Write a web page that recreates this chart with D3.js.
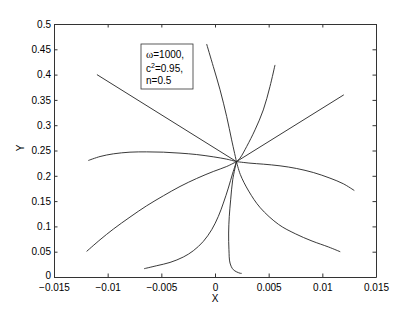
<!DOCTYPE html>
<html lang="en">

  <head>
    <meta charset="UTF-8">
    <title>Trajectories</title>
    <style>
      body {
        margin: 0;
        background-color: white;
      }

      text {
        font-family: "Liberation Sans", Arial, Helvetica, sans-serif;
        font-size: 10px;
        fill: black;
      }
    </style>
  </head>

  <body>
    <div id="my-div"></div>
    <script src="https://d3js.org/d3.v7.min.js"></script>
    <script>

      // tick values and labels
      var xTicks = [-0.015, -0.01, -0.005, 0, 0.005, 0.01, 0.015];
      var xTickLabels = ["\u22120.015", "\u22120.01", "\u22120.005", "0", "0.005", "0.01", "0.015"];
      var yTicks = [0, 0.05, 0.1, 0.15, 0.2, 0.25, 0.3, 0.35, 0.4, 0.45, 0.5];
      var yTickLabels = ["0", "0.05", "0.1", "0.15", "0.2", "0.25", "0.3", "0.35", "0.4", "0.45", "0.5"];

      // trajectories, all leaving the common point (x, y)
      var lineUpLeft = [[0.002, 0.228], [-0.011, 0.400]];
      var lineUpRight = [[0.002, 0.228], [0.012, 0.360]];
      var curveTop = [[0.002, 0.228], [0.00155, 0.271], [0.00109, 0.317], [0.00047, 0.370], [-0.00016, 0.416], [-0.00078, 0.4605]];
      var curveTopRight = [[0.002, 0.228], [0.00233, 0.2349], [0.00295, 0.2578], [0.00373, 0.2908], [0.0045, 0.3302], [0.00512, 0.3763], [0.00559, 0.4191]];
      var arcLeft = [[0.002, 0.228], [0.00109, 0.2329], [-0.00016, 0.2375], [-0.00171, 0.2420], [-0.00326, 0.2448], [-0.00481, 0.2467], [-0.00637, 0.2473], [-0.00792, 0.2467], [-0.00947, 0.2434], [-0.01071, 0.2381], [-0.01181, 0.2302]];
      var arcRight = [[0.002, 0.228], [0.00326, 0.2250], [0.0045, 0.2230], [0.00606, 0.2197], [0.00761, 0.2144], [0.00916, 0.2065], [0.01071, 0.1954], [0.01196, 0.1842], [0.01298, 0.1709]];
      var lowLeft = [[0.002, 0.228], [0.00109, 0.2184], [-0.00016, 0.2085], [-0.00171, 0.1947], [-0.00326, 0.1789], [-0.00481, 0.1605], [-0.00637, 0.1407], [-0.00792, 0.1184], [-0.00947, 0.0947], [-0.01071, 0.0736], [-0.01196, 0.0506]];
      var lowRight = [[0.002, 0.228], [0.00236, 0.2025], [0.00314, 0.1698], [0.00422, 0.1368], [0.00593, 0.1038], [0.00748, 0.0855], [0.00904, 0.0711], [0.01059, 0.0592], [0.01167, 0.0499]];
      var bottomLeft = [[0.002, 0.228], [0.00165, 0.2053], [0.00124, 0.1757], [0.00078, 0.1461], [0.00031, 0.1197], [-0.00031, 0.0934], [-0.00109, 0.0703], [-0.00202, 0.0519], [-0.00295, 0.0395], [-0.00419, 0.0288], [-0.00543, 0.0223], [-0.00661, 0.0164]];
      var bottomDown = [[0.002, 0.228], [0.00165, 0.1921], [0.00146, 0.1526], [0.00133, 0.1197], [0.00127, 0.0869], [0.0013, 0.0539], [0.0014, 0.0276], [0.00171, 0.0144], [0.00233, 0.0075], [0.00249, 0.0072]];

      var curves = [lineUpLeft, lineUpRight, curveTop, curveTopRight, arcLeft, arcRight, lowLeft, lowRight, bottomLeft, bottomDown];

      // dimensions of the plot box
      var margin = { top: 24, right: 39, bottom: 36, left: 54 },
        width = 415 - margin.left - margin.right,
        height = 313 - margin.top - margin.bottom;

      var svg = d3.select("#my-div")
        .append("svg")
        .attr("width", 415)
        .attr("height", 313)
        .append("g")
        .attr("transform", "translate(" + margin.left + "," + margin.top + ")");

      var x = d3.scaleLinear()
        .domain([-0.015, 0.015])
        .range([0, width]);

      var y = d3.scaleLinear()
        .domain([0, 0.5])
        .range([height, 0]);

      // curves
      var line = d3.line()
        .x(function (d) { return x(d[0]); })
        .y(function (d) { return y(d[1]); })
        .curve(d3.curveCatmullRom.alpha(0.5));

      svg.selectAll(".traj")
        .data(curves)
        .enter()
        .append("path")
        .attr("class", "traj")
        .attr("d", line)
        .attr("fill", "none")
        .attr("stroke", "#222")
        .attr("stroke-width", 0.9);

      // axes, MATLAB style: ticks inside on all four sides
      var tickLen = 3.5;

      svg.append("g")
        .attr("transform", "translate(0," + height + ")")
        .call(d3.axisBottom(x).tickValues(xTicks).tickSizeInner(-tickLen).tickSizeOuter(0)
          .tickPadding(7).tickFormat(function (d, i) { return xTickLabels[i]; }));

      svg.append("g")
        .call(d3.axisTop(x).tickValues(xTicks).tickSizeInner(-tickLen).tickSizeOuter(0)
          .tickFormat(""));

      var yAxis = svg.append("g")
        .call(d3.axisLeft(y).tickValues(yTicks).tickSizeInner(-tickLen).tickSizeOuter(0)
          .tickPadding(3).tickFormat(function (d, i) { return yTickLabels[i]; }));

      // lift the "0" label a little so it clears the x labels
      yAxis.selectAll(".tick text")
        .filter(function (d) { return d === 0; })
        .attr("y", -1.5);

      svg.append("g")
        .attr("transform", "translate(" + width + ",0)")
        .call(d3.axisRight(y).tickValues(yTicks).tickSizeInner(-tickLen).tickSizeOuter(0)
          .tickFormat(""));

      svg.selectAll(".domain, .tick line")
        .attr("stroke", "#333");

      svg.selectAll(".tick text")
        .style("font-size", "10px")
        .style("font-family", "'Liberation Sans', Arial, sans-serif");

      // axis labels
      svg.append("text")
        .attr("x", width / 2)
        .attr("y", height + 25)
        .style("text-anchor", "middle")
        .text("X");

      svg.append("text")
        .attr("transform", "rotate(-90)")
        .attr("x", -height * 0.49)
        .attr("y", -30)
        .style("text-anchor", "middle")
        .text("Y");

      // parameter box
      var box = svg.append("g")
        .attr("transform", "translate(87,20)");

      box.append("rect")
        .attr("width", 52)
        .attr("height", 45)
        .attr("fill", "white")
        .attr("stroke", "#333")
        .attr("stroke-width", 0.8);

      var t1 = box.append("text").attr("x", 5).attr("y", 14);
      t1.append("tspan").style("font-family", "'Liberation Serif', serif").style("font-size", "11px").text("\u03c9");
      t1.append("tspan").text("=1000,");

      var t2 = box.append("text").attr("x", 5).attr("y", 27.5);
      t2.append("tspan").text("c");
      t2.append("tspan").attr("dy", -4).style("font-size", "7px").text("2");
      t2.append("tspan").attr("dy", 4).text("=0.95,");

      box.append("text").attr("x", 5).attr("y", 40).text("n=0.5");

    </script>
  </body>

</html>
